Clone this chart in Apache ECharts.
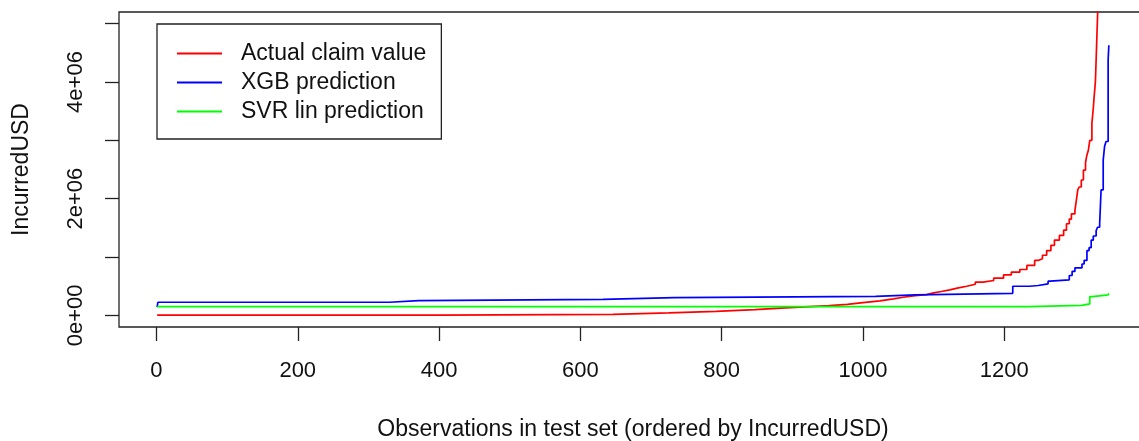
<!DOCTYPE html>
<html>
<head>
<meta charset="utf-8">
<script src="https://cdn.jsdelivr.net/npm/echarts@6/dist/echarts.min.js"></script>
<style>
  html, body { margin: 0; padding: 0; background: #fff; }
  #chart { width: 1139px; height: 441px; }
</style>
</head>
<body>
<div id="chart"></div>
<script>
// Observations sorted by incurred amount; each series is a list of
// [observation index where a level starts, value in USD].
const seriesNames = ['Actual claim value', 'XGB prediction', 'SVR lin prediction'];
const seriesColors = ['#ff0000', '#0000ff', '#00ff00'];

const actualClaim = [
  [1, 2000], [402, 17000], [646, 41000], [725, 69000], [792, 98000], [847, 127000],
  [890, 150000], [925, 167000], [952, 189000], [978, 218000], [1000, 248000],
  [1024, 282000], [1043, 310000], [1057, 339000], [1074, 356000], [1090, 385000],
  [1100, 408000], [1111, 437000], [1123, 471000], [1135, 499000], [1147, 533000],
  [1159, 568000], [1170, 597000], [1185, 637000], [1199, 695000], [1210, 740000],
  [1222, 786000], [1232, 855000], [1243, 941000], [1248, 970000], [1254, 1030000],
  [1260, 1110000], [1266, 1200000], [1271, 1290000], [1278, 1370000], [1284, 1460000],
  [1288, 1570000], [1292, 1650000], [1295, 1740000], [1300, 1800000], [1302, 1970000],
  [1304, 2150000], [1306, 2200000], [1309, 2320000], [1312, 2490000], [1315, 2620000],
  [1317, 2750000], [1319, 2830000], [1321, 3000000], [1324, 3290000], [1326, 3550000],
  [1327, 3720000], [1329, 4010000], [1331, 4750000], [1333, 5500000], [1337, 6300000],
  [1341, 7400000], [1345, 8600000], [1348, 9500000]
];

const xgbPrediction = [
  [1, 140000], [2, 224000], [330, 253000], [371, 275000], [632, 304000], [733, 325000],
  [1018, 351000], [1074, 378000], [1212, 499000], [1236, 511000], [1248, 540000],
  [1262, 585000], [1265, 609000], [1292, 683000], [1296, 752000], [1300, 815000],
  [1310, 880000], [1313, 941000], [1317, 1110000], [1320, 1160000], [1323, 1290000],
  [1326, 1360000], [1330, 1450000], [1332, 1510000], [1335, 1570000], [1337, 2150000],
  [1340, 2660000], [1342, 2900000], [1344, 2980000], [1347, 4380000], [1348, 4630000]
];

const svrLinPrediction = [
  [1, 148000], [1234, 170000], [1310, 196000], [1321, 322000], [1325, 351000],
  [1347, 360000], [1348, 378000]
];

const xTicks = [0, 200, 400, 600, 800, 1000, 1200];
const yTicks = [0, 1000000, 2000000, 3000000, 4000000, 5000000];
const yLabelTicks = [0, 2000000, 4000000];

// R-style scientific notation: 2e+06, 0e+00
function sci(v) {
  if (v === 0) return '0e+00';
  const e = Math.floor(Math.log10(Math.abs(v)));
  const m = Math.round(v / Math.pow(10, e));
  return m + 'e' + (e >= 0 ? '+' : '-') + String(Math.abs(e)).padStart(2, '0');
}

const FONT = '"Liberation Sans", Arial, sans-serif';
const INK = '#222';

const chart = echarts.init(document.getElementById('chart'), null, { renderer: 'canvas' });

chart.setOption({
  animation: false,
  backgroundColor: '#fff',
  textStyle: { fontFamily: FONT, color: '#111' },
  grid: {
    left: 119, top: 12, width: 1028, height: 315,
    containLabel: false,
    outerBoundsMode: 'none',
    show: true, borderColor: INK, borderWidth: 1.3, backgroundColor: 'transparent'
  },
  legend: {
    orient: 'vertical',
    left: 157, top: 24,
    padding: [18, 15, 16, 20],
    itemGap: 6,
    itemWidth: 45, itemHeight: 1.8,
    icon: 'rect',
    borderColor: INK, borderWidth: 1.3,
    backgroundColor: '#fff',
    selectedMode: false,
    textStyle: { fontFamily: FONT, fontSize: 23, color: '#111', padding: [0, 0, 0, 14] },
    data: seriesNames
  },
  xAxis: {
    type: 'value',
    min: -53, max: 1402,
    name: 'Observations in test set (ordered by IncurredUSD)',
    nameLocation: 'middle', nameGap: 91,
    nameTextStyle: { fontFamily: FONT, fontSize: 23, color: '#111' },
    axisLine: { show: false, onZero: false },
    splitLine: { show: false },
    axisTick: { show: true, inside: false, length: 14, customValues: xTicks,
      lineStyle: { color: INK, width: 1.3 } },
    axisLabel: { show: true, margin: 33, customValues: xTicks,
      fontFamily: FONT, fontSize: 22, color: '#111',
      formatter: v => String(v) }
  },
  yAxis: {
    type: 'value',
    min: -200000, max: 5200000,
    name: 'IncurredUSD',
    nameLocation: 'middle', nameGap: 86,
    nameTextStyle: { fontFamily: FONT, fontSize: 23, color: '#111' },
    axisLine: { show: false, onZero: false },
    splitLine: { show: false },
    axisTick: { show: true, inside: false, length: 14, customValues: yTicks,
      lineStyle: { color: INK, width: 1.3 } },
    axisLabel: { show: true, rotate: 90, margin: 32, customValues: yLabelTicks,
      fontFamily: FONT, fontSize: 22, color: '#111',
      formatter: v => sci(v) }
  },
  series: [actualClaim, xgbPrediction, svrLinPrediction].map((d, i) => ({
    name: seriesNames[i],
    type: 'line',
    step: 'end',
    data: d,
    showSymbol: false,
    symbol: 'none',
    clip: true,
    color: seriesColors[i],
    lineStyle: { color: seriesColors[i], width: 1.7 },
    emphasis: { disabled: true }
  }))
});
</script>
</body>
</html>
